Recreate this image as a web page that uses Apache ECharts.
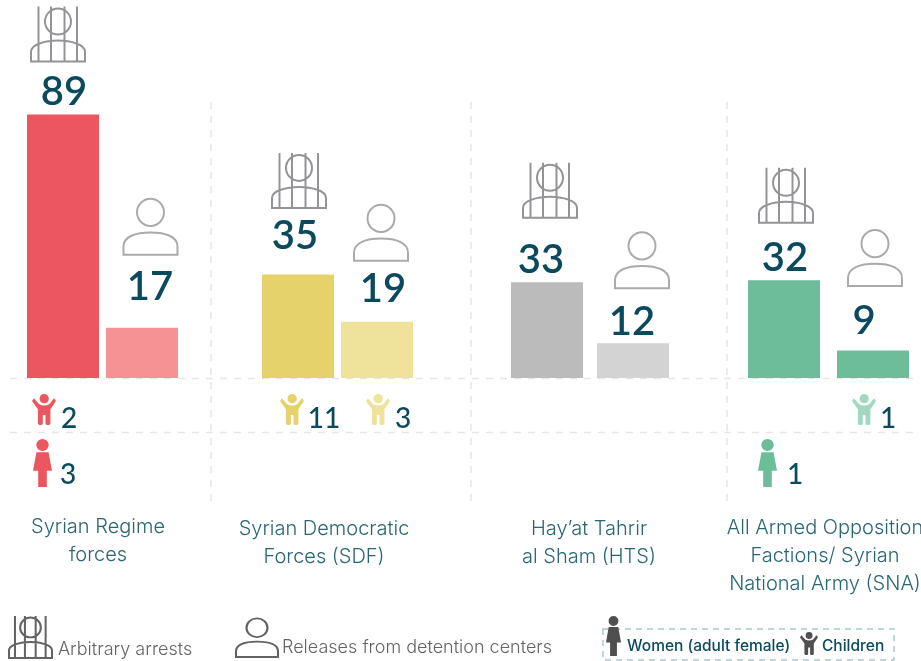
<!DOCTYPE html>
<html>
<head>
<meta charset="utf-8">
<script src="https://cdn.jsdelivr.net/npm/echarts@6/dist/echarts.min.js"></script>
<style>html,body{margin:0;padding:0;background:#fff}#main{width:921px;height:661px}</style>
</head>
<body>
<div id="main"></div>
<script>
// values
var groups = ['Syrian Regime\nforces', 'Syrian Democratic\nForces (SDF)', 'Hay\u2019at Tahrir\nal Sham (HTS)', 'All Armed Opposition\nFactions/ Syrian\nNational Army (SNA)'];
var kinds = ['Arbitrary arrests', 'Releases from detention centers'];
var arrests = [89, 35, 33, 32];
var releases = [17, 19, 12, 9];
var arrestChildren = [2, 11, null, null];
var releaseChildren = [null, 3, null, 1];
var arrestWomen = [3, null, null, 1];

// layout only
var colors = [['#EB5660', '#F59294'], ['#E6D26A', '#EFE39B'], ['#BBBBBB', '#D3D3D3'], ['#6DBD99', '#6DBD99']];
var childColors = [['#EB5660', '#F59294'], ['#E6D26A', '#EFE39B'], ['#BBBBBB', '#D3D3D3'], ['#6DBD99', '#A3D8C0']];
var gridLeft = [23.5, 258.5, 504, 739.5];
var gridWidth = [158, 158, 172, 178];
// the source scales each group a little differently
var axisMax = [100, 100, 102, 97];
var labelOffset = [[[1, -2], [8, -21]], [[-3, -18], [6, -13]], [[-6, -2], [-1, -1]], [[1, -2], [-9, -9]]];
var iconOffset = [[[-5, -80.5], [8.5, -101]], [[1, -94], [4, -89]], [[3, -92], [9, -83]], [[2, -85], [2, -92.5]]];
var nameX = [98, 324, 589, 825];
var nameY = [513, 515, 515, 514];
var childX = [[44, 69], [292, 324], [0, 0], [0, 0]];
var childX2 = [[0, 0], [378, 403], [0, 0], [864, 888]];
var womanX = [[42.5, 68], [0, 0], [0, 0], [767.5, 795]];

var INK = '#0B4A5C';
var jailPath = 'M7.5 0V55M20 0V55M33.5 0V55M46 0V55M14 15A13 13 0 1 1 40 15A13 13 0 1 1 14 15ZM0 55H54V45C54 38 40 34 27 34C14 34 0 38 0 45Z';
var personPath = 'M13.5 14A13.5 13.5 0 1 1 40.5 14A13.5 13.5 0 1 1 13.5 14ZM0 56H54V48C54 38 42 34 27 34C12 34 0 38 0 48Z';
var womanPath = 'M9.5 18A18 18 0 1 1 45.5 18A18 18 0 1 1 9.5 18ZM10 40H45L55 95H40V144H15V95H0Z';
var childPath = 'M23 14A14 14 0 1 1 51 14A14 14 0 1 1 23 14ZM0 21L6 13L21 30Q37 39 53 30L67 13L73 21L56 46V88Q56 93 50 93H46Q41 93 41 88V63H33V88Q33 93 28 93H24Q18 93 18 88V46Z';

echarts.graphic.registerShape('jailIcon', echarts.graphic.extendPath(jailPath, {}));
echarts.graphic.registerShape('personIcon', echarts.graphic.extendPath(personPath, {}));
echarts.graphic.registerShape('womanIcon', echarts.graphic.extendPath(womanPath, {}));
echarts.graphic.registerShape('childIcon', echarts.graphic.extendPath(childPath, {}));

var grid = [], xAxis = [], yAxis = [], series = [], graphic = [];

function iconItem(i, j, value, path, size, stroke) {
    return {
        value: [j, value],
        symbol: 'path://' + path,
        symbolSize: size,
        symbolOffset: iconOffset[i][j],
        itemStyle: {color: 'none', borderColor: stroke, borderWidth: 2, opacity: 1}
    };
}

groups.forEach(function (name, i) {
    grid.push({left: gridLeft[i], width: gridWidth[i], top: 82, height: 296});
    xAxis.push({type: 'category', gridIndex: i, show: false, data: kinds});
    yAxis.push({type: 'value', gridIndex: i, show: false, min: 0, max: axisMax[i]});
    series.push({
        type: 'bar',
        xAxisIndex: i,
        yAxisIndex: i,
        barWidth: 72,
        silent: true,
        data: [arrests[i], releases[i]].map(function (v, j) {
            return {
                value: v,
                itemStyle: {color: colors[i][j]},
                label: {
                    show: true,
                    position: 'top',
                    distance: 0,
                    offset: labelOffset[i][j],
                    color: INK,
                    fontFamily: 'Lato',
                    fontWeight: 600,
                    fontSize: 40,
                    lineHeight: 40
                }
            };
        })
    });
    series.push({
        type: 'scatter',
        xAxisIndex: i,
        yAxisIndex: i,
        clip: false,
        silent: true,
        z: 3,
        data: [
            iconItem(i, 0, arrests[i], jailPath, [54, 55], '#949498'),
            iconItem(i, 1, releases[i], personPath, [54, 56], '#A9AAAE')
        ]
    });
    graphic.push({
        type: 'text',
        style: {
            x: nameX[i], y: nameY[i], text: name, align: 'center', verticalAlign: 'top',
            fill: '#2A6574', fontFamily: 'Inter', fontWeight: 300, fontSize: 20, lineHeight: 28
        }
    });
});

function dashLine(x1, y1, x2, y2, color) {
    return {
        type: 'line',
        shape: {x1: x1, y1: y1, x2: x2, y2: y2},
        style: {stroke: color || '#E6E6E6', lineWidth: 1.5, lineDash: [7, 7]},
        z: 0
    };
}
[378.5, 432.5].forEach(function (y) { graphic.push(dashLine(10, y, 917, y)); });
[211, 471, 727].forEach(function (x) { graphic.push(dashLine(x, 102, x, 502)); });

// shapes are drawn at their own size, then scaled to the box asked for
function icon(type, x, y, sx, sy, style) {
    return {type: type, x: x, y: y, scaleX: sx, scaleY: sy, shape: {}, style: style, z: 5};
}
function count(text, x, y) {
    return {
        type: 'text',
        style: {
            x: x, y: y, text: String(text), align: 'center', verticalAlign: 'middle',
            fill: INK, fontFamily: 'Lato', fontWeight: 500, fontSize: 28
        },
        z: 5
    };
}
var childScale = [24 / 73, 31 / 93], womanScale = [19 / 55, 48 / 144];
groups.forEach(function (name, i) {
    if (arrestChildren[i] != null) {
        graphic.push(icon('childIcon', childX[i][0] - 12, 394, childScale[0], childScale[1], {fill: childColors[i][0]}));
        graphic.push(count(arrestChildren[i], childX[i][1], 419));
    }
    if (releaseChildren[i] != null) {
        graphic.push(icon('childIcon', childX2[i][0] - 12, 394, childScale[0], childScale[1], {fill: childColors[i][1]}));
        graphic.push(count(releaseChildren[i], childX2[i][1], 419));
    }
    if (arrestWomen[i] != null) {
        graphic.push(icon('womanIcon', womanX[i][0] - 9.5, 439, womanScale[0], womanScale[1], {fill: colors[i][0]}));
        graphic.push(count(arrestWomen[i], womanX[i][1], 475));
    }
});

// legend row
var legendGrey = '#636363';
var line = {fill: 'none', stroke: legendGrey, lineWidth: 2, strokeNoScale: true};
graphic.push(icon('jailIcon', 9, 616, 43 / 54, 42 / 55, line));
graphic.push({type: 'text', style: {x: 58, y: 650, text: kinds[0], verticalAlign: 'middle', fill: legendGrey, fontFamily: 'Inter', fontWeight: 300, fontSize: 18}});
graphic.push(icon('personIcon', 236, 618, 42 / 54, 39 / 56, line));
graphic.push({type: 'text', style: {x: 282, y: 648, text: kinds[1], verticalAlign: 'middle', fill: legendGrey, fontFamily: 'Inter', fontWeight: 300, fontSize: 18}});
graphic.push({
    type: 'rect',
    shape: {x: 603, y: 629, width: 291, height: 31},
    style: {fill: 'none', stroke: '#A9C8CE', lineWidth: 1.5, lineDash: [6, 5]}
});
graphic.push(icon('womanIcon', 606, 616, 15 / 55, 40 / 144, {fill: '#4F4F4F'}));
graphic.push({type: 'text', style: {x: 627, y: 646, text: 'Women (adult female)', verticalAlign: 'middle', fill: INK, fontFamily: 'Inter', fontWeight: 500, fontSize: 15.5}});
graphic.push(icon('childIcon', 800, 632, 18 / 73, 23 / 93, {fill: '#4F4F4F'}));
graphic.push({type: 'text', style: {x: 822, y: 646, text: 'Children', verticalAlign: 'middle', fill: INK, fontFamily: 'Inter', fontWeight: 500, fontSize: 15.5}});

var chart = echarts.init(document.getElementById('main'), null, {renderer: 'canvas'});
chart.setOption({
    animation: false,
    backgroundColor: '#fff',
    grid: grid,
    xAxis: xAxis,
    yAxis: yAxis,
    series: series,
    graphic: graphic
});
</script>
</body>
</html>
